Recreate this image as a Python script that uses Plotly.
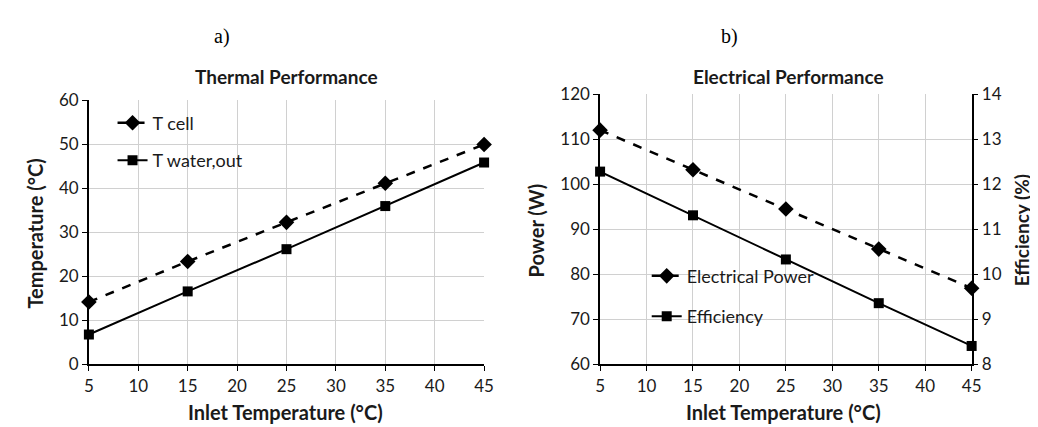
import plotly.graph_objects as go

inlet = [5, 15, 25, 35, 45]
t_cell = [14.2, 23.4, 32.3, 41.2, 50.0]
t_water_out = [6.8, 16.6, 26.2, 36.0, 45.9]
power = [112.0, 103.2, 94.5, 85.6, 76.9]
efficiency = [12.28, 11.31, 10.33, 9.36, 8.41]

W, H = 1038, 427
FONT = "Lato"
TXT = "#1a1a1a"

def px(x):
    return x / W

def py(y):
    return 1 - y / H

fig = go.Figure()
fig.add_trace(go.Scatter(x=inlet, y=t_cell, name="T cell", mode="lines+markers",
                         line=dict(color="black", width=2.5, dash="dash"),
                         marker=dict(symbol="diamond", size=12, color="black"),
                         cliponaxis=False,
                         xaxis="x", yaxis="y", legend="legend", legendgroup="a"))
fig.add_trace(go.Scatter(x=inlet, y=t_water_out, name="T water,out", mode="lines+markers",
                         line=dict(color="black", width=2),
                         marker=dict(symbol="square", size=10, color="black"),
                         cliponaxis=False,
                         xaxis="x", yaxis="y", legend="legend", legendgroup="b"))
fig.add_trace(go.Scatter(x=inlet, y=power, name="Electrical Power", mode="lines+markers",
                         line=dict(color="black", width=2.5, dash="dash"),
                         marker=dict(symbol="diamond", size=12, color="black"),
                         cliponaxis=False,
                         xaxis="x2", yaxis="y2", legend="legend2", legendgroup="c"))
fig.add_trace(go.Scatter(x=inlet, y=efficiency, name="Efficiency", mode="lines+markers",
                         line=dict(color="black", width=2),
                         marker=dict(symbol="square", size=10, color="black"),
                         cliponaxis=False,
                         xaxis="x2", yaxis="y3", legend="legend2", legendgroup="d"))

axcommon = dict(showline=True, linecolor="black", linewidth=1.5, ticks="outside",
                tickcolor="black", ticklen=5, showgrid=True, gridcolor="#d0d0d0",
                gridwidth=1, zeroline=False, tickfont=dict(family=FONT, size=17, color=TXT))

fig.update_layout(
    width=W, height=H, margin=dict(l=0, r=0, t=0, b=0),
    paper_bgcolor="white", plot_bgcolor="white",
    font=dict(family=FONT, color=TXT),
    showlegend=True,
    xaxis=dict(domain=[px(77), px(478)], range=[5, 45], dtick=5, tick0=5, anchor="y",
               **axcommon),
    yaxis=dict(domain=[py(363.3), py(85.7)], range=[0, 60], dtick=10, anchor="x", **axcommon),
    xaxis2=dict(domain=[px(595.7), px(972.7)], range=[5, 45], dtick=5, tick0=5, anchor="y2",
                **axcommon),
    yaxis2=dict(domain=[py(363.3), py(79)], range=[60, 120], dtick=10, anchor="x2", **axcommon),
    yaxis3=dict(range=[8, 14], dtick=1, overlaying="y2", side="right", anchor="x2",
                showline=True, linecolor="black", linewidth=1.5, ticks="outside",
                tickcolor="black", ticklen=5, showgrid=False, zeroline=False,
                tickfont=dict(family=FONT, size=17, color=TXT)),
    legend=dict(x=px(101), y=py(90), xanchor="left", yanchor="top", bgcolor="rgba(0,0,0,0)",
                traceorder="grouped", tracegroupgap=11,
                font=dict(family=FONT, size=18, color=TXT)),
    legend2=dict(x=px(643), y=py(251), xanchor="left", yanchor="top", bgcolor="rgba(0,0,0,0)",
                 traceorder="grouped", tracegroupgap=14,
                 font=dict(family=FONT, size=18, color=TXT)),
)

annots = [
    dict(text="a)", x=px(212), y=py(18), font=dict(family="Liberation Serif", size=20, color="black")),
    dict(text="b)", x=px(727), y=py(18), font=dict(family="Liberation Serif", size=20, color="black")),
    dict(text="<b>Thermal Performance</b>", x=px(278), y=py(60), font=dict(family=FONT, size=19, color=TXT)),
    dict(text="<b>Electrical Performance</b>", x=px(787), y=py(60), font=dict(family=FONT, size=19, color=TXT)),
    dict(text="<b>Inlet Temperature (°C)</b>", x=px(277), y=py(413), font=dict(family=FONT, size=20, color=TXT)),
    dict(text="<b>Inlet Temperature (°C)</b>", x=px(782), y=py(413), font=dict(family=FONT, size=20, color=TXT)),
    dict(text="<b>Temperature (°C)</b>", x=px(22), y=py(226), textangle=-90, font=dict(family=FONT, size=20, color=TXT)),
    dict(text="<b>Power (W)</b>", x=px(531), y=py(222), textangle=-90, font=dict(family=FONT, size=20, color=TXT)),
    dict(text="<b>Efficiency (%)</b>", x=px(1023), y=py(222), textangle=-90, font=dict(family=FONT, size=19, color=TXT)),
]
for a in annots:
    fig.add_annotation(xref="paper", yref="paper", showarrow=False, xanchor="center", yanchor="middle", **a)

fig.write_html("out.html")
